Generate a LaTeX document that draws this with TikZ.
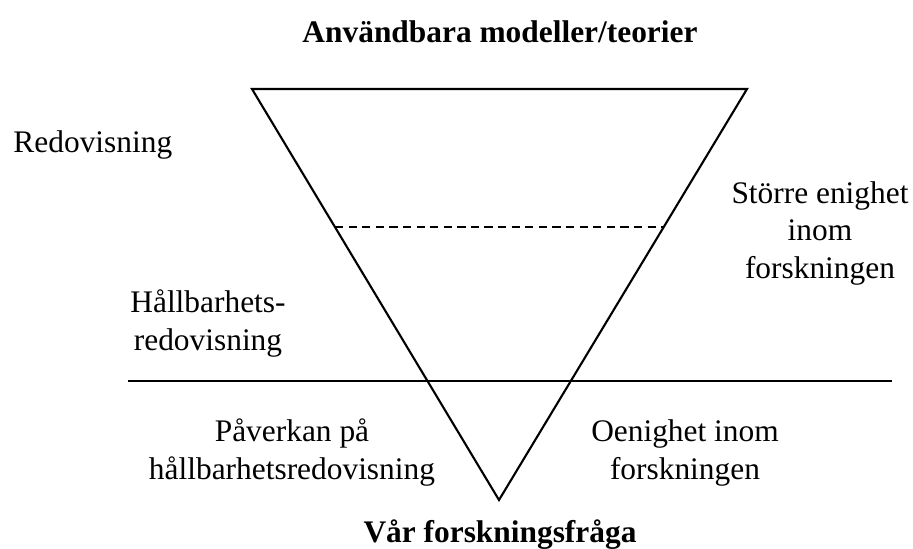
\documentclass[tikz,border=0pt]{standalone}
\usepackage{fontspec}
\setmainfont{Liberation Serif}
\usetikzlibrary{calc}

\begin{document}
\begin{tikzpicture}[x=0.015cm,y=-0.015cm,
  lbl/.style={inner sep=0pt,align=center,font=\fontsize{13.4}{15.8}\selectfont},
  hd/.style={inner sep=0pt,font=\fontsize{13.4}{15.8}\selectfont\bfseries}]
\useasboundingbox (0,0) rectangle (913,548);
% triangle
\coordinate (tl) at (252,89);
\coordinate (tr) at (747,89);
\coordinate (bot) at (499,500);
\draw[black, line width=0.9pt] (tl) -- (tr) -- (bot) -- cycle;
\draw[black, line width=0.9pt, dash pattern=on 3.5pt off 2.3pt] ($(tl)!0.336!(bot)$) -- ($(tr)!0.336!(bot)$);
% divider
\coordinate (hl) at (128,381);
\coordinate (hr) at (892,381);
\draw[black, line width=0.6pt] (hl) -- (hr);
% texts (base = last line)
\node[hd, anchor=base] (modeller) at (500,42) {Användbara modeller/teorier};
\node[hd, anchor=base] (fraga) at (500,542) {Vår forskningsfråga};
\node[lbl, anchor=base west] (redov) at (13,152) {Redovisning};
\node[lbl, anchor=base] (hallb) at (208,350) {Hållbarhets-\\redovisning};
\node[lbl, anchor=base] (enighet) at (820,278) {Större enighet\\inom\\forskningen};
\node[lbl, anchor=base] (paverkan) at (292,479) {Påverkan på\\hållbarhetsredovisning};
\node[lbl, anchor=base] (oenighet) at (685,479) {Oenighet inom\\forskningen};
\end{tikzpicture}
\end{document}
